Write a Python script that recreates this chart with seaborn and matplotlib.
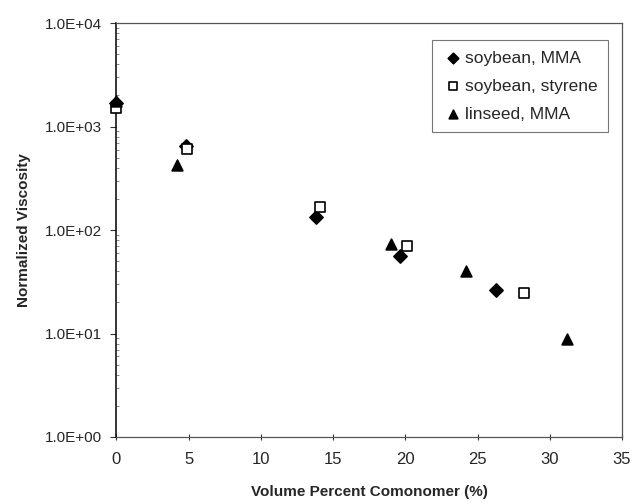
import matplotlib
matplotlib.use("Agg")
import matplotlib.pyplot as plt
from matplotlib.ticker import FuncFormatter, LogLocator, NullFormatter
import seaborn as sns
import numpy as np
import pandas as pd

# values
soy_mma_x = [0.0, 4.8, 13.8, 19.6, 26.3]
soy_mma_y = [1700, 650, 134, 56, 26.3]

soy_sty_x = [0.0, 4.9, 14.1, 20.1, 28.2]
soy_sty_y = [1500, 605, 168, 70, 24.8]

lin_mma_x = [0.0, 4.2, 19.0, 24.2, 31.2]
lin_mma_y = [1750, 430, 74, 40.5, 8.8]

x_ticks = [0, 5, 10, 15, 20, 25, 30, 35]

sns.set_style("white")
plt.rcParams["font.family"] = ["Liberation Sans", "DejaVu Sans"]

fig, ax = plt.subplots(figsize=(6.36, 5.04), dpi=100)
fig.subplots_adjust(left=0.183, right=0.978, top=0.954, bottom=0.133)

series = [
    ("soybean, MMA", soy_mma_x, soy_mma_y, "D", "black", 45),
    ("soybean, styrene", soy_sty_x, soy_sty_y, "s", "white", 45),
    ("linseed, MMA", lin_mma_x, lin_mma_y, "^", "black", 60),
]
for label, xs, ys, marker, face, size in series:
    df = pd.DataFrame({"x": xs, "y": ys})
    sns.scatterplot(
        data=df, x="x", y="y", ax=ax, marker=marker, s=size,
        color=face, edgecolor="black", linewidth=1.2, label=label,
        zorder=3, clip_on=False,
    )

ax.set_yscale("log")
ax.set_ylim(1, 1e4)
ax.set_xlim(0, 35)
ax.set_xticks(x_ticks)
ax.yaxis.set_major_formatter(FuncFormatter(lambda v, p: f"{v:.1E}"))
ax.yaxis.set_minor_locator(LogLocator(base=10, subs=np.arange(2, 10)))
ax.yaxis.set_minor_formatter(NullFormatter())

ax.tick_params(axis="y", which="major", labelsize=11, direction="out",
               length=4, width=0.8, color="#333333", pad=6, left=True)
ax.tick_params(axis="x", which="major", labelsize=12, direction="inout",
               length=5, width=0.8, color="#333333", pad=8, bottom=True)
ax.tick_params(axis="y", which="minor", direction="in", length=2, width=0.6,
               color="#777777", left=True)

for side in ["top", "right", "bottom"]:
    ax.spines[side].set_color("#555555")
    ax.spines[side].set_linewidth(0.9)
ax.spines["left"].set_color("black")
ax.spines["left"].set_linewidth(1.1)

ax.set_xlabel("Volume Percent Comonomer (%)", fontsize=11, fontweight="bold", labelpad=13)
ax.set_ylabel("Normalized Viscosity", fontsize=11, fontweight="bold", labelpad=10)

leg = ax.legend(loc="upper right", bbox_to_anchor=(0.99, 0.98), fontsize=12.5,
                frameon=True, fancybox=False, edgecolor="#555555",
                handletextpad=0.1, handlelength=1.2, labelspacing=0.75,
                borderpad=0.6, markerscale=0.8)
leg.get_frame().set_linewidth(0.8)

fig.savefig("out.png", dpi=100)
